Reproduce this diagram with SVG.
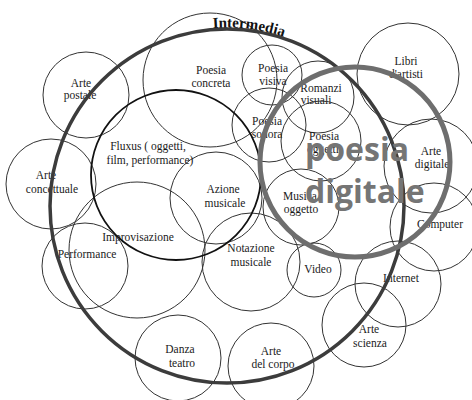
<svg xmlns="http://www.w3.org/2000/svg" width="472" height="400" viewBox="0 0 472 400">
<defs>
<style>
.c{fill:none;stroke:#333;stroke-width:1}
.fx{fill:none;stroke:#111;stroke-width:1.8}
.im{fill:none;stroke:#3c3c3c;stroke-width:3.5}
.pd{fill:none;stroke:#6e6e6e;stroke-width:5}
.t{font-family:"Liberation Serif","Times New Roman",serif;font-size:11.5px;fill:#1a1a1a;text-anchor:middle}
.big{font-family:"Open Sans","Noto Sans",sans-serif;font-weight:bold;font-size:32px;fill:#757575}
.ti{font-family:"Liberation Serif","Times New Roman",serif;font-weight:bold;font-size:15px;fill:#111;text-anchor:middle}
</style>
<path id="arcI" d="M 48.5 206 A 178.5 178.5 0 0 1 405.5 206"/>
</defs>
<rect width="472" height="400" fill="#fff"/>
<g id="nodes">
<g id="arte-postale"><circle class="c" cx="86" cy="95" r="43"/><text class="t" x="81" y="87">Arte</text><text class="t" x="80" y="99">postale</text></g>
<g id="poesia-concreta"><circle class="c" cx="210" cy="80" r="67"/><text class="t" x="211" y="74">Poesia</text><text class="t" x="211" y="87">concreta</text></g>
<g id="poesia-visiva"><circle class="c" cx="272" cy="75" r="30"/><text class="t" x="273" y="72">Poesia</text><text class="t" x="273" y="85">visiva</text></g>
<g id="romanzi-visuali"><circle class="c" cx="318" cy="97" r="36"/><text class="t" x="321" y="92">Romanzi</text><text class="t" x="316" y="104">visuali</text></g>
<g id="libri-artisti"><circle class="c" cx="408" cy="74" r="51"/><text class="t" x="406" y="65">Libri</text><text class="t" x="406" y="78">d'artisti</text></g>
<g id="poesia-sonora"><circle class="c" cx="269" cy="125" r="37"/><text class="t" x="267" y="125">Poesia</text><text class="t" x="267" y="138">sonora</text></g>
<g id="poesia-oggetti"><circle class="c" cx="321" cy="141" r="40"/><text class="t" x="324" y="140">Poesia</text><text class="t" x="323" y="153">oggetti</text></g>
<g id="arte-digitale"><circle class="c" cx="431" cy="166" r="47"/><text class="t" x="431" y="155">Arte</text><text class="t" x="432" y="168">digitale</text></g>
<g id="arte-concettuale"><circle class="c" cx="51" cy="184" r="45"/><text class="t" x="46" y="179">Arte</text><text class="t" x="52" y="193">concettuale</text></g>
<g id="azione-musicale"><circle class="c" cx="216" cy="198" r="46"/><text class="t" x="223" y="193">Azione</text><text class="t" x="225" y="207">musicale</text></g>
<g id="musica-oggetto"><circle class="c" cx="301" cy="207" r="38"/><text class="t" x="300" y="200">Musica</text><text class="t" x="301" y="213">oggetto</text></g>
<g id="computer"><circle class="c" cx="434" cy="227" r="44"/><text class="t" x="440" y="228">Computer</text></g>
<g id="improvisazione"><circle class="c" cx="137" cy="250" r="68"/><text class="t" x="138" y="241">Improvisazione</text></g>
<g id="performance"><circle class="c" cx="85" cy="266" r="43"/><text class="t" x="87" y="258">Performance</text></g>
<g id="notazione-musicale"><circle class="c" cx="251" cy="262" r="49"/><text class="t" x="251" y="252">Notazione</text><text class="t" x="251" y="266">musicale</text></g>
<g id="video"><circle class="c" cx="314" cy="270" r="27"/><text class="t" x="318" y="273">Video</text></g>
<g id="internet"><circle class="c" cx="398" cy="284" r="43"/><text class="t" x="401" y="282">Internet</text></g>
<g id="arte-scienza"><circle class="c" cx="364" cy="325" r="42"/><text class="t" x="369" y="333">Arte</text><text class="t" x="370" y="347">scienza</text></g>
<g id="danza-teatro"><circle class="c" cx="178" cy="358" r="43"/><text class="t" x="180" y="353">Danza</text><text class="t" x="182" y="367">teatro</text></g>
<g id="arte-corpo"><circle class="c" cx="271" cy="366" r="43"/><text class="t" x="271" y="355">Arte</text><text class="t" x="273" y="368">del corpo</text></g>
<g id="fluxus"><circle class="fx" cx="176" cy="175" r="85"/><text class="t" x="148" y="150">Fluxus ( oggetti,</text><text class="t" x="150" y="164">film, performance)</text></g>
<g id="intermedia"><circle class="im" cx="227" cy="206" r="177"/><text class="ti"><textPath href="#arcI" startOffset="302">Intermedia</textPath></text></g>
<g id="poesia-digitale"><circle class="pd" cx="355" cy="162" r="95"/><text class="big" x="305" y="161">poesia</text><text class="big" x="305" y="203">digitale</text></g>
</g>
<g id="connectors"></g>
</svg>
